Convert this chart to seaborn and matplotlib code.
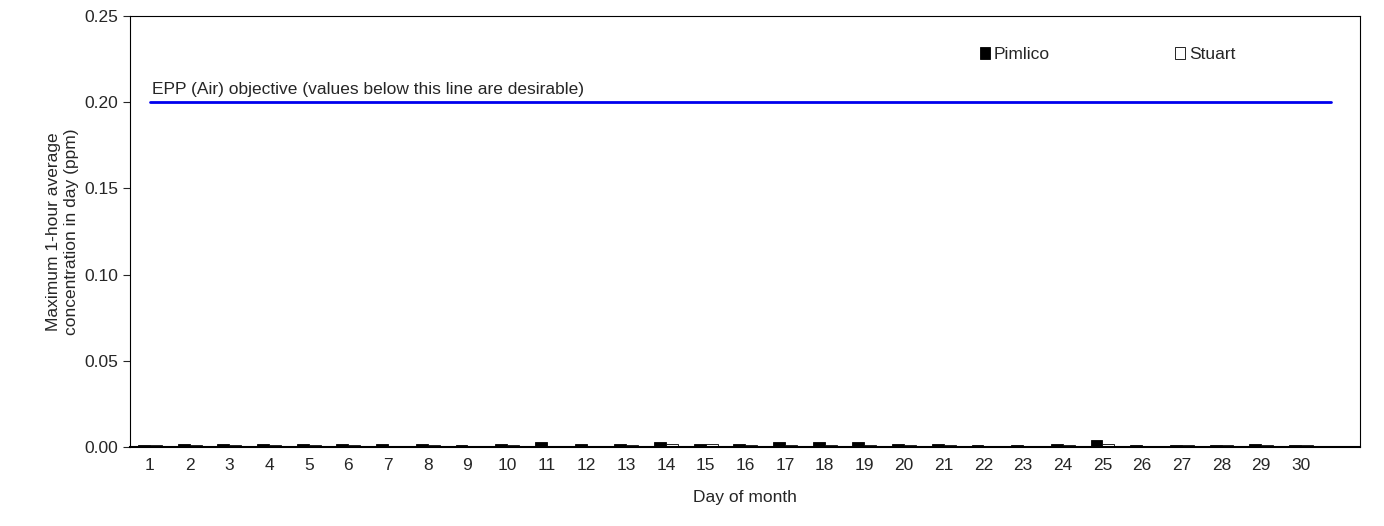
import numpy as np
import pandas as pd
import seaborn as sns
import matplotlib.pyplot as plt

days = list(range(1, 31))
pimlico = [0.001, 0.002, 0.002, 0.002, 0.002, 0.002, 0.002, 0.002, 0.001, 0.002,
           0.003, 0.002, 0.002, 0.003, 0.002, 0.002, 0.003, 0.003, 0.003, 0.002,
           0.002, 0.001, 0.001, 0.002, 0.004, 0.001, 0.001, 0.001, 0.002, 0.001]
stuart = [0.001, 0.001, 0.001, 0.001, 0.001, 0.001, 0.0, 0.001, 0.0, 0.001,
          0.0, 0.0, 0.001, 0.002, 0.002, 0.001, 0.001, 0.001, 0.001, 0.001,
          0.001, 0.0, 0.0, 0.001, 0.002, 0.0, 0.001, 0.001, 0.001, 0.001]
objective = 0.20

df = pd.DataFrame({'day': days * 2,
                   'value': pimlico + stuart,
                   'site': ['Pimlico'] * 30 + ['Stuart'] * 30})

sns.set_style('white')
plt.rcParams['font.family'] = ['Liberation Sans', 'DejaVu Sans']

fig, ax = plt.subplots(figsize=(13.84, 5.26), dpi=100)
sns.barplot(data=df, x='day', y='value', hue='site', palette=['black', 'white'],
            edgecolor='black', linewidth=0.6, width=0.6, ax=ax)
ax.plot([0.0, 29.75], [objective, objective], color='#0000ee', lw=2)
ax.text(0.05, 0.2045, 'EPP (Air) objective (values below this line are desirable)', fontsize=12.5)

ax.set_xlim(-0.5, 30.5)
ax.set_ylim(0, 0.25)
ax.set_yticks(np.arange(0, 0.26, 0.05))
ax.set_yticklabels([f'{v:.2f}' for v in np.arange(0, 0.26, 0.05)], fontsize=12.5)
ax.set_xticks(np.arange(-0.5, 31, 1))
ax.set_xticklabels([])
ax.set_xticks(range(30), minor=True)
ax.set_xticklabels([str(d) for d in days], minor=True, fontsize=12.5)
ax.tick_params(axis='x', which='major', direction='out', length=6, color='gray')
ax.tick_params(axis='x', which='minor', length=0, pad=8)
ax.tick_params(axis='y', direction='out', length=5, left=True)
for s in ax.spines.values():
    s.set_color('black')
    s.set_linewidth(0.8)
ax.spines['bottom'].set_linewidth(1.5)

ax.set_xlabel('Day of month', fontsize=12.5, labelpad=12)
ax.set_ylabel('Maximum 1-hour average\nconcentration in day (ppm)', fontsize=12.5)

ax.legend(loc='upper left', bbox_to_anchor=(0.678, 0.965), ncol=2, frameon=False,
          fontsize=12.5, handlelength=0.6, handletextpad=0.2, columnspacing=7.2)

plt.subplots_adjust(left=0.094, right=0.983, top=0.97, bottom=0.15)
plt.savefig('out.png')
